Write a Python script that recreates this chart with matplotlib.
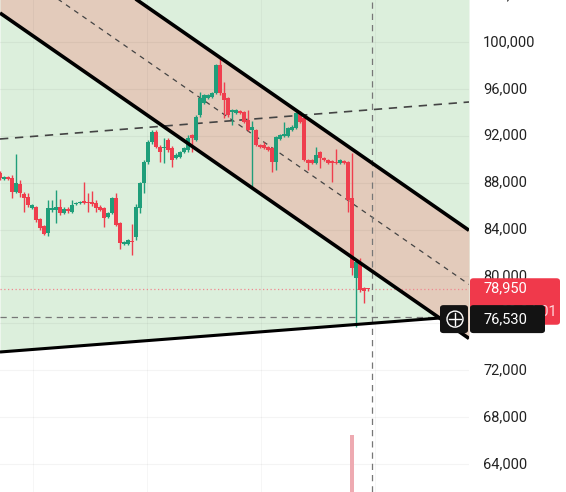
import numpy as np
import matplotlib.pyplot as plt
from matplotlib.patches import FancyBboxPatch, Circle
from matplotlib.transforms import blended_transform_factory

# OHLC candles (price), one per bar, oldest first
opens = [88820, 88310, 88480, 88400, 87200, 87890, 87030, 86780, 85840, 85920,
         84900, 84300, 83710, 85670, 85670, 85920, 85410, 85750, 85500, 86180,
         86270, 86440, 86350, 86350, 86270, 85920, 85840, 85070, 85410, 86690,
         84560, 82770, 82770, 83020, 83360, 85840, 87970, 89760, 91470, 92320,
         91040, 90960, 91640, 90960, 90100, 90190, 90620, 90790, 92070, 91640,
         93770, 94800, 95220, 95310, 95650, 98040, 95650, 95220, 94030, 93940,
         94110, 94030, 93350, 92490, 92490, 91210, 91210, 91040, 90960, 89760,
         91720, 91980, 91980, 92490, 92660, 93940, 93520, 89930, 89930, 89680,
         90620, 90100, 89930, 89850, 89760, 89680, 89850, 89760, 86690, 79870,
         81150, 79010, 79000]
highs = [89000, 88570, 88570, 88650, 90450, 88230, 87200, 87120, 86180, 86010,
         84990, 84390, 86520, 86520, 87370, 86610, 85920, 85920, 86520, 86350,
         86440, 88060, 87120, 87290, 86520, 86090, 85920, 85500, 86780, 87120,
         84640, 83020, 83190, 84470, 86180, 88060, 89930, 91640, 92490, 92490,
         91210, 91810, 91810, 91130, 90530, 90700, 91040, 92070, 92150, 93770,
         95730, 95560, 95560, 95730, 98120, 98720, 96590, 95310, 94280, 94280,
         94200, 94110, 94200, 93260, 92580, 91300, 91470, 91130, 91040, 91980,
         92150, 93180, 92750, 92920, 94030, 94110, 93600, 90020, 90020, 91040,
         90700, 90190, 90020, 89930, 90870, 90020, 89930, 89850, 90530, 81400,
         81570, 79100, 79010]
lows = [88230, 88230, 88230, 86690, 87120, 86780, 85500, 85920, 85750, 84640,
        83960, 83540, 83450, 85500, 84560, 85240, 85330, 85410, 85410, 86090,
        86200, 86180, 85500, 86010, 85500, 85580, 84220, 84990, 85330, 84300,
        82340, 82680, 82680, 81830, 83110, 85410, 87120, 89590, 91300, 90960,
        89760, 89680, 90620, 89340, 90020, 90100, 90530, 90620, 90620, 91550,
        93600, 94710, 95140, 95220, 95560, 95480, 93520, 93600, 92920, 93860,
        93860, 93090, 92410, 87540, 91130, 90960, 90870, 90700, 88910, 89080,
        91640, 91900, 91900, 92410, 92580, 93090, 89850, 89080, 89590, 89590,
        89250, 89850, 89590, 88060, 89590, 89590, 89590, 85500, 80120, 75690,
        78670, 77730, 78760]
closes = [88400, 88480, 88310, 87200, 87970, 87120, 86690, 86090, 86090, 84810,
          84130, 83620, 85840, 85840, 85920, 85410, 85750, 85580, 86090, 86270,
          86350, 86270, 86270, 86180, 85840, 85670, 84990, 85410, 86690, 84390,
          82850, 82940, 83110, 82940, 85920, 87970, 89760, 91470, 92320, 91040,
          90620, 91040, 90790, 89930, 90360, 90620, 90960, 91810, 91810, 93600,
          95220, 95480, 95480, 95650, 98040, 95650, 95050, 93770, 94200, 94200,
          93940, 93180, 92490, 92750, 91210, 91040, 90960, 90790, 89760, 91900,
          92070, 92150, 92660, 92750, 93940, 93180, 89930, 89680, 89680, 90360,
          90100, 89930, 89680, 89680, 89680, 89930, 89680, 86520, 80720, 81230,
          78840, 78760, 78950]

# only one volume bar is tall enough to show
volume_idx = [88]
volume_val = [2.9]

price_ticks = [64000, 68000, 72000, 76000, 80000, 84000, 88000, 92000, 96000, 100000, 104000]
last_price = 78950
cross_price = 76530
cross_idx = 93
countdown = "00:04:01"

# drawings: (bar index, price)
channel_upper = [(0, 111700), (117.25, 83935)]
channel_lower = [(0, 102474), (117.25, 74710)]
rising_dash = [(0, 91725), (117.25, 94882)]
support = [(0, 73554), (110, 76454)]

W, H = 566, 492
fig = plt.figure(figsize=(W / 100, H / 100), dpi=100)
ax = fig.add_axes([0, 0, 469 / W, 1])
xmin, xmax = 0, 117.25
ymin, ymax = 61610, 103583
ax.set_xlim(xmin, xmax)
ax.set_ylim(ymin, ymax)
ax.axis('off')

green_bg = '#dcefdc'
chan_fill = '#e3cbbb'
up_col = '#1f9e7a'
dn_col = '#ef3e4e'

# green zone above the support line
s_slope = (support[1][1] - support[0][1]) / (support[1][0] - support[0][0])
xs = np.array([xmin, xmax])
ax.fill_between(xs, support[0][1] + s_slope * xs, ymax + 5000, color=green_bg, lw=0, zorder=0)

# channel
def line_at(pts, x):
    (x0, y0), (x1, y1) = pts
    return y0 + (y1 - y0) / (x1 - x0) * (np.asarray(x) - x0)

ax.fill_between(xs, line_at(channel_lower, xs), line_at(channel_upper, xs),
                color=chan_fill, lw=0, zorder=1)

# grid
for p in price_ticks:
    ax.axhline(p, color='#000000', alpha=0.045, lw=0.8, zorder=1.5)
for gx in [8.25, 36.75, 65.25, 93.75]:
    ax.axvline(gx, color='#000000', alpha=0.035, lw=0.8, zorder=1.5)

ax.plot(xs, line_at(channel_upper, xs), color='black', lw=2.6, zorder=4, solid_capstyle='butt')
ax.plot(xs, line_at(channel_lower, xs), color='black', lw=2.6, zorder=4, solid_capstyle='butt')
mid = [(0, (channel_upper[0][1] + channel_lower[0][1]) / 2),
       (117.25, (channel_upper[1][1] + channel_lower[1][1]) / 2)]
ax.plot(xs, line_at(mid, xs), color='#444444', lw=0.9, ls=(0, (4, 4)), zorder=2)
ax.plot(xs, line_at(rising_dash, xs), color='#444444', lw=1.2, ls=(0, (5, 4)), zorder=2)
ax.plot([support[0][0], support[1][0]], [support[0][1], support[1][1]],
        color='black', lw=2.2, zorder=4, solid_capstyle='butt')

# candles
idx = np.arange(len(opens))
o = np.array(opens)
c = np.array(closes)
colors = np.where(c >= o, up_col, dn_col)
ax.vlines(idx, lows, highs, colors=colors, lw=1.0, zorder=3)
body_h = np.maximum(np.abs(c - o), 80)
ax.bar(idx, body_h, bottom=np.minimum(o, c), width=0.8, color=colors, lw=0, zorder=3)

# price lines
ax.axhline(last_price, color='#f08890', lw=0.9, ls=(0, (1, 2)), zorder=2.5)
ax.plot([xmin, support[1][0]], [cross_price, cross_price], color='#777777', lw=0.9,
        ls=(0, (5, 4)), zorder=2.5)
ax.axvline(cross_idx, color='#777777', lw=0.9, ls=(0, (5, 4)), zorder=2.5)

# volume
vax = fig.add_axes([0, 0, 469 / W, 1], sharex=ax)
vax.set_ylim(0, 25)
vax.axis('off')
vax.patch.set_visible(False)
vax.bar(volume_idx, volume_val, width=0.8, color='#eeaab1', lw=0)

# price scale labels
tr = blended_transform_factory(ax.transAxes, ax.transData)
for p in price_ticks:
    ax.text(1 + 14 / 469, p, f"{p:,}", transform=tr, ha='left', va='center',
            fontsize=10.5, family='Roboto', color='#222222', clip_on=False)

def yfig(price):
    return (price - ymin) / (ymax - ymin)

# last price label
yl = yfig(last_price)
fig.add_artist(FancyBboxPatch((470 / W, yl - 36 / H), 90 / W, 46.5 / H,
                              boxstyle='round,pad=0,rounding_size=0.006',
                              transform=fig.transFigure, fc='#f0394b', ec='none', zorder=10))
fig.text(484 / W, yl, f"{last_price:,}", ha='left', va='center', fontsize=10.5,
         family='Roboto', color='white', zorder=11)
fig.text(557 / W, yl - 23 / H, countdown, ha='right', va='center', fontsize=10.5,
         family='Roboto', color='#ffd6da', zorder=11)

# crosshair label
yc = yfig(cross_price) - 2 / H
fig.add_artist(FancyBboxPatch((470 / W, yc - 14 / H), 75 / W, 28 / H,
                              boxstyle='round,pad=0,rounding_size=0.006',
                              transform=fig.transFigure, fc='#131313', ec='none', zorder=12))
fig.text(483 / W, yc, f"{cross_price:,}", ha='left', va='center', fontsize=10.5,
         family='Roboto', color='white', zorder=13)
fig.add_artist(FancyBboxPatch((440 / W, yc - 14 / H), 28 / W, 28 / H,
                              boxstyle='round,pad=0,rounding_size=0.006',
                              transform=fig.transFigure, fc='#131313', ec='none', zorder=12))
cx, cy = 455 / W, yc
fig.add_artist(Circle((455, yc * H), 8, transform=None, fc='none', ec='white', lw=1, zorder=13))
fig.add_artist(plt.Line2D([449 / W, 461 / W], [cy, cy], color='white', lw=1, zorder=13))
fig.add_artist(plt.Line2D([cx, cx], [cy - 6 / H, cy + 6 / H], color='white', lw=1, zorder=13))

fig.savefig('out.png', dpi=100)
